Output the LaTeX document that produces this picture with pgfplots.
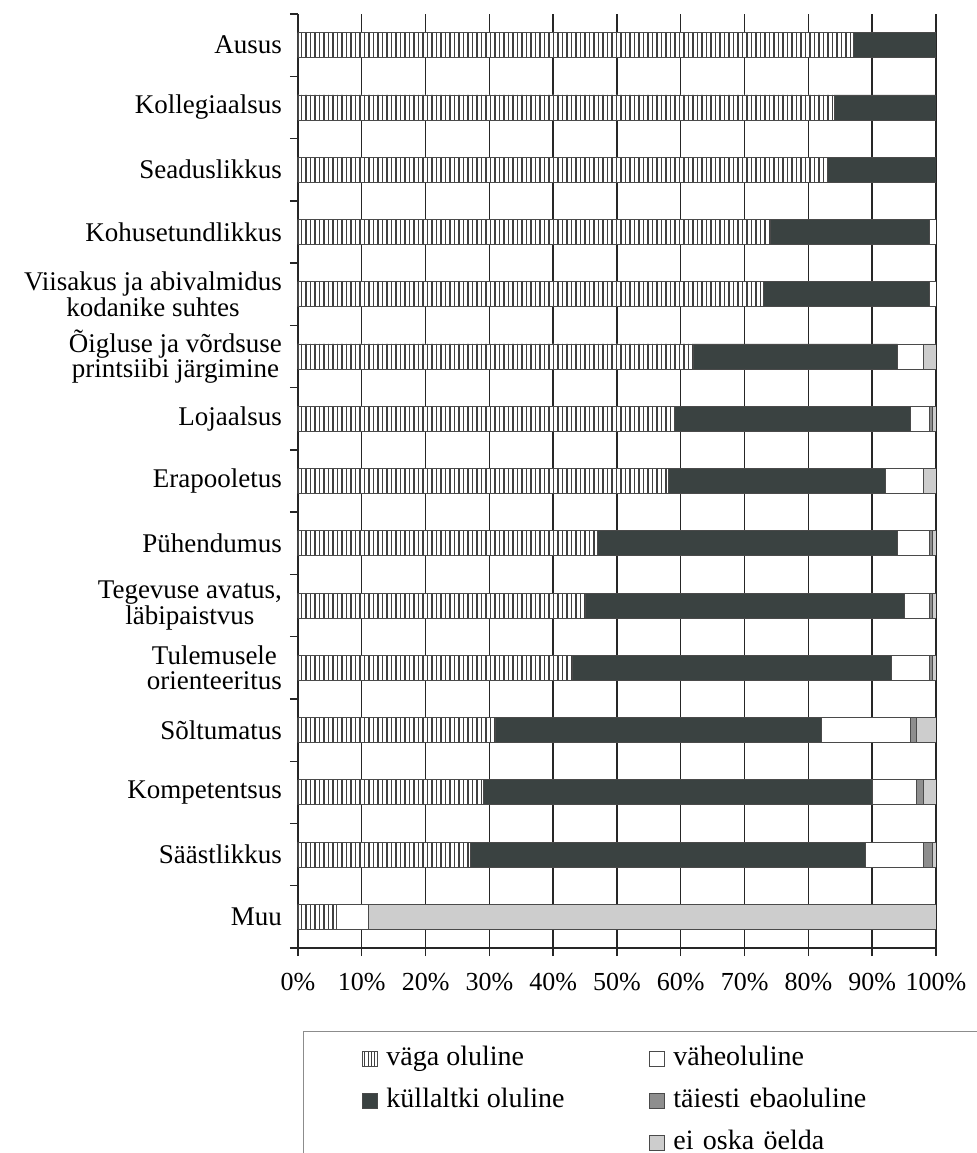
\documentclass[border=0pt]{standalone}
\usepackage{pgfplots}
\pgfplotsset{compat=1.18}
\usepackage{pgfplotstable}
\usepackage{fontspec}
\setmainfont{Liberation Serif}
\usetikzlibrary{patterns.meta}
\definecolor{darkbar}{HTML}{3A4241}
\definecolor{midgray}{HTML}{8E8E8E}
\definecolor{lightgray}{HTML}{CDCDCD}
\definecolor{edgec}{HTML}{4A4A4A}

% idx, vaga, kullaltki, vaheoluline, taiesti, eioska
\pgfplotstableread{
idx vaga kull vahe taie eio
0  87 13 0 0 0
1  84 16 0 0 0
2  83 17 0 0 0
3  74 25 1 0 0
4  73 26 1 0 0
5  62 32 4 0 2
6  59 37 3 0.5 0.5
7  58 34 6 0 2
8  47 47 5 0.5 0.5
9  45 50 4 0.5 0.5
10 43 50 6 0.5 0.5
11 31 51 14 1 3
12 29 61 7 1 2
13 27 62 9 1.5 0.5
14 6 0 5 0 89
}\datatable

\tikzset{hatchbar/.style={fill=white, postaction={pattern={Lines[angle=90,distance=2.25pt,line width=0.6pt]}, pattern color=black!75}}}

\begin{document}
\begin{tikzpicture}
\begin{axis}[
  name=ax,
  scale only axis,
  width=319pt, height=467pt,
  xbar stacked,
  bar width=12.5pt,
  xmin=0, xmax=100,
  ymin=-0.5, ymax=14.5,
  y dir=reverse,
  axis x line*=bottom,
  axis y line*=left,
  xtick={0,10,...,100},
  xticklabel={\pgfmathprintnumber{\tick}\%},
  /pgf/number format/assume math mode=true,
  xmajorgrids,
  grid style={black!85, line width=0.7pt},
  ytick={0,...,14},
  yticklabels={Ausus, Kollegiaalsus, Seaduslikkus, Kohusetundlikkus,
    {Viisakus ja abivalmidus\\kodanike suhtes},
    {Õigluse ja võrdsuse\\printsiibi järgimine},
    Lojaalsus, Erapooletus, Pühendumus,
    {Tegevuse avatus,\\läbipaistvus},
    {Tulemusele\\orienteeritus},
    Sõltumatus, Kompetentsus, Säästlikkus, Muu},
  minor ytick={-0.5,0.5,...,14.5},
  every major y tick/.append style={draw=none},
  tick align=outside,
  major tick length=4pt,
  minor tick length=4pt,
  tick style={black!85, line width=0.7pt},
  axis line style={black!85, line width=0.8pt},
  yticklabel style={align=center, font=\fontsize{13.5}{12.8}\selectfont, xshift=-0.5pt},
  xticklabel style={font=\fontsize{13}{14}\selectfont, yshift=-5pt},
  legend columns=2,
  legend cell align=left,
  legend image code/.code={\draw[#1] (0pt,-3.8pt) rectangle (7.6pt,3.8pt); \path (10pt,0pt);},
  legend style={
    at={(axis description cs:0.008,-0.089)}, anchor=north west,
    draw=black!45, line width=0.5pt,
    inner xsep=29pt, inner ysep=5pt,
    font=\fontsize{14}{15}\selectfont,
    nodes={text height=10pt, text depth=3pt},
    row sep=4pt,
    /tikz/every even column/.append style={column sep=40pt},
    /tikz/column 4/.append style={text width=140pt},
  },
]
\addplot[forget plot, draw=edgec, line width=0.4pt, hatchbar] table[x=vaga, y=idx] {\datatable};
\addplot[forget plot, draw=edgec, line width=0.4pt, fill=darkbar] table[x=kull, y=idx] {\datatable};
\addplot[forget plot, draw=edgec, line width=0.4pt, fill=white] table[x=vahe, y=idx] {\datatable};
\addplot[forget plot, draw=edgec, line width=0.4pt, fill=midgray] table[x=taie, y=idx] {\datatable};
\addplot[forget plot, draw=edgec, line width=0.4pt, fill=lightgray] table[x=eio, y=idx] {\datatable};

\addlegendimage{draw=edgec, line width=0.4pt, fill=white, postaction={pattern={Lines[angle=90,distance=1.6pt,line width=0.5pt]}, pattern color=black!75}}
\addlegendentry{väga oluline}
\addlegendimage{draw=edgec, line width=0.4pt, fill=white}
\addlegendentry{väheoluline}
\addlegendimage{draw=edgec, line width=0.4pt, fill=darkbar}
\addlegendentry{küllaltki oluline}
\addlegendimage{draw=edgec, line width=0.4pt, fill=midgray}
\addlegendentry{täiesti ebaoluline}
\addlegendimage{empty legend}
\addlegendentry{}
\addlegendimage{draw=edgec, line width=0.4pt, fill=lightgray}
\addlegendentry{ei oska öelda}
\end{axis}
\pgfresetboundingbox
\path ([xshift=-149pt,yshift=-102.5pt]ax.south west) rectangle ([xshift=339.5pt,yshift=474pt]ax.south west);
\end{tikzpicture}
\end{document}
